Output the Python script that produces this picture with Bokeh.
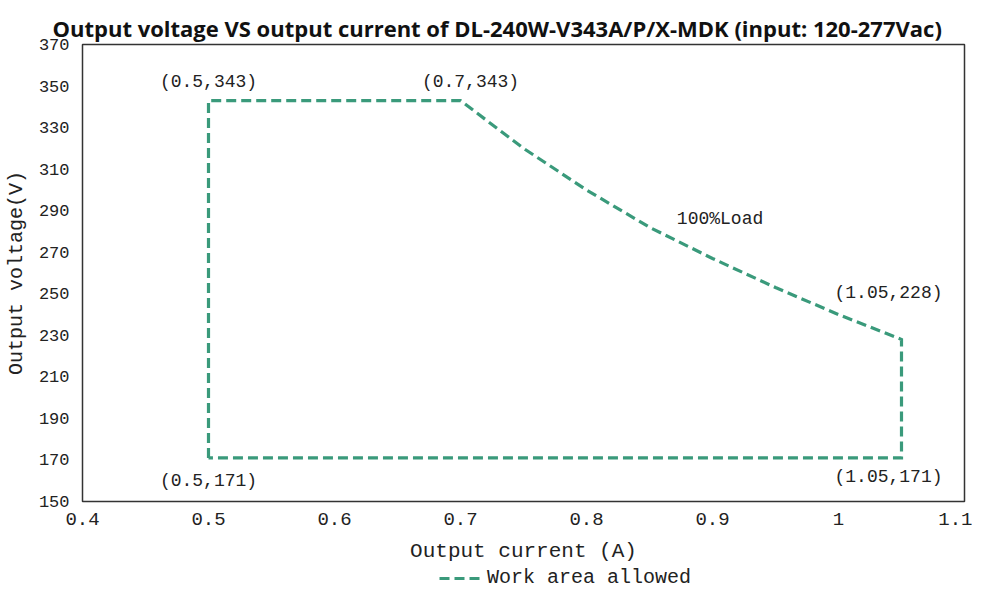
from bokeh.plotting import figure
from bokeh.layouts import column
from bokeh.models import (Range1d, FixedTicker, Label, Legend, LegendItem)
from bokeh.embed import file_html
from bokeh.resources import INLINE

# ---- data ----
current_a = [0.5, 0.5, 0.7, 0.75, 0.8, 0.85, 0.9, 0.95, 1.0, 1.05, 1.05, 0.5]
voltage_v = [171, 343, 343, 320, 300, 282, 267, 253, 240, 228, 171, 171]

x_ticks = [0.4, 0.5, 0.6, 0.7, 0.8, 0.9, 1.0, 1.1]
x_tick_labels = ["0.4", "0.5", "0.6", "0.7", "0.8", "0.9", "1", "1.1"]
y_ticks = [150, 170, 190, 210, 230, 250, 270, 290, 310, 330, 350, 370]

corner_x = [0.5, 0.7, 1.05, 1.05, 0.5]
corner_y = [343, 343, 228, 171, 171]
corner_text = ["(0.5,343)", "(0.7,343)", "(1.05,228)", "(1.05,171)", "(0.5,171)"]

TITLE = "Output voltage VS output current of DL-240W-V343A/P/X-MDK (input: 120-277Vac)"
SERIES_NAME = "Work area allowed"
LINE_COLOR = "#3a9a7b"
MONO = "Liberation Mono"
DASH = "10 5"

p = figure(width=972, height=565, output_backend="svg", toolbar_location=None,
           x_range=Range1d(0.4, 1.1), y_range=Range1d(150, 370),
           min_border_left=82, min_border_right=8, min_border_top=44, min_border_bottom=63)

p.background_fill_color = "white"
p.border_fill_color = "white"
p.outline_line_color = "#333333"
p.outline_line_width = 1.5
p.grid.visible = False

# title
p.title.text = TITLE
p.title.text_font = "Open Sans"
p.title.text_font_style = "bold"
p.title.text_font_size = "22px"
p.title.text_color = "#111111"
p.title.align = "left"
p.title.vertical_align = "top"
p.title.offset = -30
p.title.standoff = 0

# axes
for ax in (p.xaxis[0], p.yaxis[0]):
    ax.axis_line_color = None
    ax.major_tick_line_color = None
    ax.minor_tick_line_color = None
    ax.major_label_text_font = MONO
    ax.major_label_text_color = "#222222"
    ax.axis_label_text_font = MONO
    ax.axis_label_text_font_style = "normal"
    ax.axis_label_text_color = "#222222"

p.xaxis.ticker = FixedTicker(ticks=x_ticks)
p.xaxis.major_label_overrides = {t: l for t, l in zip(x_ticks, x_tick_labels)}
p.xaxis.major_label_text_font_size = "19px"
p.xaxis.major_label_standoff = 5
p.xaxis.axis_label = "Output current (A)"
p.xaxis.axis_label_text_font_size = "21px"
p.xaxis.axis_label_standoff = 12

p.yaxis.ticker = FixedTicker(ticks=y_ticks)
p.yaxis.major_label_text_font_size = "17px"
p.yaxis.major_label_standoff = 7
p.yaxis.axis_label = "Output voltage(V)"
p.yaxis.axis_label_text_font_size = "20px"
p.yaxis.axis_label_standoff = 8

# work area boundary
p.line(current_a, voltage_v, line_color=LINE_COLOR, line_width=3.2,
       line_dash=DASH, line_join="miter")

# corner annotations
offsets = [(0, -19, "center"), (10, -19, "center"), (-13, -46, "center"),
           (-13, 19, "center"), (0, 23, "center")]
for (cx, cy, txt, (dx, dy, al)) in zip(corner_x, corner_y, corner_text, offsets):
    p.add_layout(Label(x=cx, y=cy, text=txt, x_offset=dx, y_offset=-dy,
                       text_align=al, text_baseline="middle",
                       text_font=MONO, text_font_size="18px", text_color="#222222"))

p.add_layout(Label(x=0.906, y=286, text="100%Load", text_align="center",
                   text_baseline="middle", text_font=MONO, text_font_size="18px",
                   text_color="#222222"))

# legend strip below the chart (no axes, so its frame spans the full width)
lg = figure(width=972, height=26, output_backend="svg", toolbar_location=None,
            x_range=Range1d(0, 1), y_range=Range1d(0, 1),
            x_axis_location=None, y_axis_location=None,
            min_border_left=0, min_border_right=0, min_border_top=0, min_border_bottom=0)
lg.grid.visible = False
lg.outline_line_color = None
lg.background_fill_color = "white"
lg.border_fill_color = "white"
# single-point key line (draws nothing itself; only feeds the legend swatch)
key = lg.line(x=[current_a[0]], y=[voltage_v[0]], line_color=LINE_COLOR,
              line_width=3.2, line_dash=DASH)

legend = Legend(items=[LegendItem(label=SERIES_NAME, renderers=[key])],
                location=(357, 2), orientation="horizontal",
                border_line_color=None, background_fill_alpha=0,
                label_text_font=MONO, label_text_font_size="20px",
                label_text_color="#222222",
                glyph_width=44, glyph_height=18, padding=0, margin=0,
                spacing=0, label_standoff=4)
lg.add_layout(legend, "center")

layout = column(p, lg, spacing=0)
open("out.html", "w").write(file_html(layout, INLINE))
